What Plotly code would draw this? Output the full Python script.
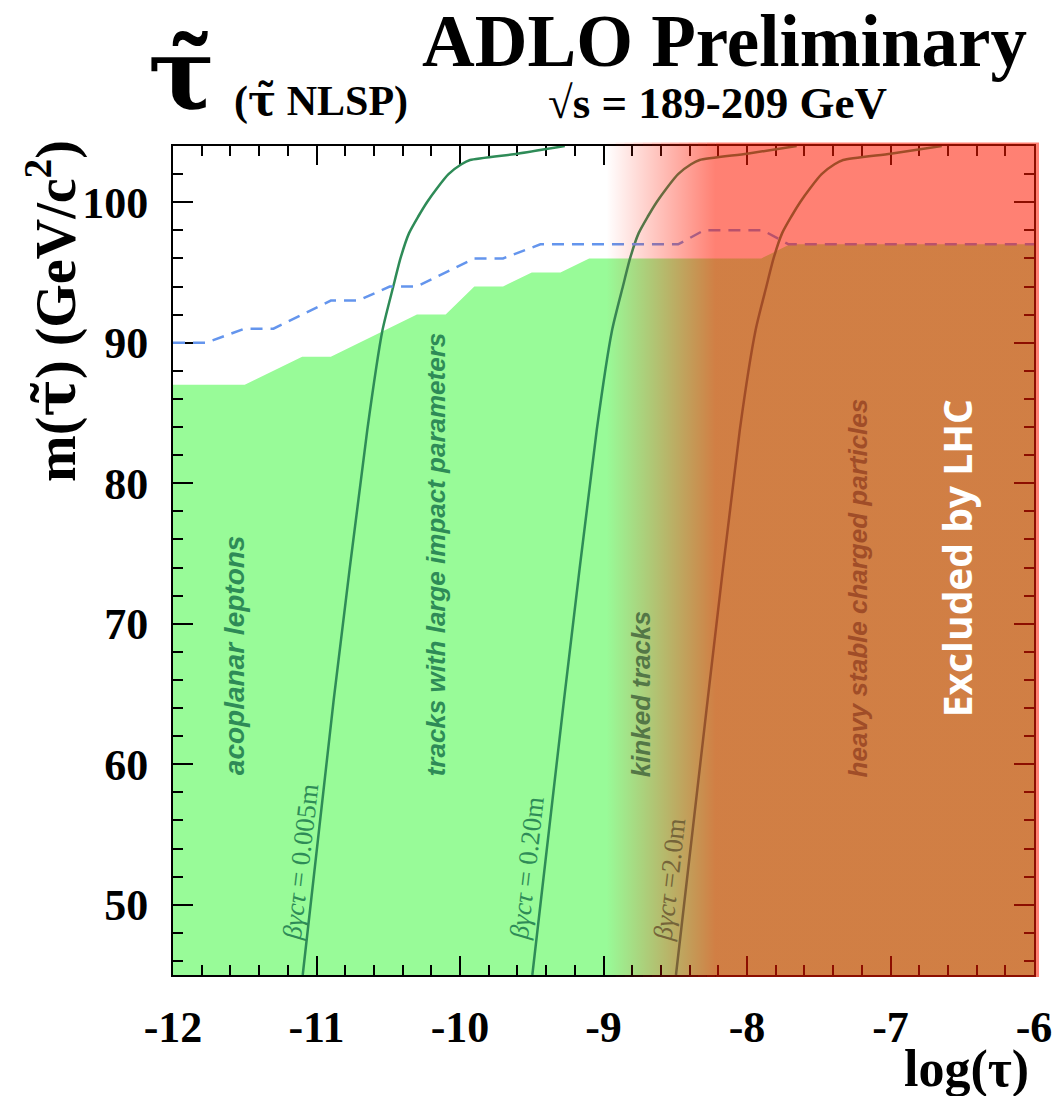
import plotly.graph_objects as go

# ---------------- data ----------------
x_range = [-12, -6]
y_range = [45, 104]

x_tickvals = [-12, -11, -10, -9, -8, -7, -6]
x_ticktext = ["-12", "-11", "-10", "-9", "-8", "-7", "-6"]
y_tickvals = [50, 60, 70, 80, 90, 100]
y_ticktext = ["50", "60", "70", "80", "90", "100"]

# observed excluded region (green), upper boundary
excl_logtau = [-12, -11.5, -11.1, -10.9, -10.3, -10.1, -9.9, -9.7, -9.5, -9.3, -9.1, -7.9, -7.7, -6]
excl_mass = [87, 87, 89, 89, 92, 92, 94, 94, 95, 95, 96, 96, 97, 97]

# expected limit (dashed)
exp_logtau = [-12, -11.77, -11.5, -11.30, -10.9, -10.71, -10.49, -10.30, -9.9, -9.70, -9.44,
              -8.48, -8.30, -7.89, -7.71, -6]
exp_mass = [90, 90, 91, 91, 93, 93, 94, 94, 96, 96, 97, 97, 98, 98, 97, 97]

# decay-length contours  beta*gamma*c*tau = const
c005_logtau = [-11.096, -10.88, -10.646, -10.54, -10.465, -10.415, -10.355, -10.29, -10.23,
               -10.16, -10.08, -9.99, -9.93, -9.60, -9.27]
c005_mass = [45, 64.6, 83.8, 90.9, 94.0, 96.0, 97.8, 99.0, 100.0, 101.0, 102.0, 102.7, 103.0,
             103.45, 104.0]

c020_logtau = [-9.496, -9.275, -9.047, -8.94, -8.865, -8.815, -8.755, -8.69, -8.63, -8.56,
               -8.48, -8.39, -8.33, -8.0, -7.654]
c020_mass = [45, 64.6, 83.8, 90.9, 94.0, 96.0, 97.8, 99.0, 100.0, 101.0, 102.0, 102.7, 103.0,
             103.45, 104.0]

c200_logtau = [-8.495, -8.274, -8.05, -7.94, -7.865, -7.815, -7.755, -7.69, -7.63, -7.56,
               -7.48, -7.39, -7.33, -7.0, -6.643]
c200_mass = [45, 64.6, 83.8, 90.9, 94.0, 96.0, 97.8, 99.0, 100.0, 101.0, 102.0, 102.7, 103.0,
             103.45, 104.0]

# LHC excluded region (fades in between these log(tau) values)
lhc_fade_start = -8.98
lhc_fade_full = -8.22
lhc_logtau = [-8.98, -5.9, -5.9, -8.98]
lhc_mass = [40, 40, 110, 110]
lhc_rgb = (255, 25, 0)
lhc_alpha = 0.55

# ---------------- styling ----------------
GREEN_FILL = "#98FB98"
CURVE = "#2E8B57"
DASH = "#6495ED"
SERIF = "Liberation Serif"
SANS = "Liberation Sans"
TT = "<span style='font-family:DejaVu Serif'>τ̃</span>"

W, H = 1056, 1096
ML, MR, MT, MB = 173, 22, 146, 121
PW, PH = W - ML - MR, H - MT - MB


def px(xp, yp):
    return (xp - ML) / PW, (H - MB - yp) / PH


fig = go.Figure()

# green excluded region as a below-layer shape (under ticks)
path = "M %g,%g " % (excl_logtau[0], y_range[0])
for xv, yv in zip(excl_logtau, excl_mass):
    path += "L %g,%g " % (xv, yv)
path += "L %g,%g Z" % (excl_logtau[-1], y_range[0])
fig.add_shape(type="path", path=path, xref="x", yref="y", layer="below",
              fillcolor=GREEN_FILL, line=dict(width=0))

# curves
for xs, ys in [(c005_logtau, c005_mass), (c020_logtau, c020_mass), (c200_logtau, c200_mass)]:
    fig.add_trace(go.Scatter(x=xs, y=ys, mode="lines",
                             line=dict(color=CURVE, width=2.5, shape="spline", smoothing=0.6),
                             hoverinfo="skip", showlegend=False))

fig.add_trace(go.Scatter(x=exp_logtau, y=exp_mass, mode="lines",
                         line=dict(color=DASH, width=2.5, dash="12px,8px"),
                         hoverinfo="skip", showlegend=False))

# LHC overlay with horizontal gradient
r, g, b = lhc_rgb
fig.add_trace(go.Scatter(
    x=lhc_logtau + [lhc_logtau[0]], y=lhc_mass + [lhc_mass[0]], mode="lines",
    fill="toself", line=dict(width=0, color="rgba(0,0,0,0)"),
    fillgradient=dict(type="horizontal", start=lhc_fade_start, stop=lhc_fade_full,
                      colorscale=[[0, "rgba(%d,%d,%d,0)" % (r, g, b)],
                                  [1, "rgba(%d,%d,%d,%g)" % (r, g, b, lhc_alpha)]]),
    hoverinfo="skip", showlegend=False))


# tint the frame lines inside the LHC region
def alpha_at(x):
    f = (x - lhc_fade_start) / (lhc_fade_full - lhc_fade_start)
    return max(0.0, min(1.0, f)) * lhc_alpha


nseg = 12
edges = [lhc_fade_start + (lhc_fade_full - lhc_fade_start) * i / nseg for i in range(nseg + 1)]
segs = [(edges[i], edges[i + 1], alpha_at(0.5 * (edges[i] + edges[i + 1]))) for i in range(nseg)]
segs.append((lhc_fade_full, x_range[1], lhc_alpha))
for x0, x1, a in segs:
    col = "rgba(%d,%d,%d,%.3f)" % (r, g, b, a)
    fig.add_shape(type="rect", xref="x", yref="paper", x0=x0, x1=x1,
                  y0=1.0, y1=1.0 + 3.5 / PH, fillcolor=col, line=dict(width=0), layer="above")
    fig.add_shape(type="rect", xref="x", yref="paper", x0=x0, x1=x1,
                  y0=-2.0 / PH, y1=0.0, fillcolor=col, line=dict(width=0), layer="above")
fig.add_shape(type="rect", xref="paper", yref="paper", x0=1.0, x1=1.0 + 5.0 / PW,
              y0=-2.0 / PH, y1=1.0 + 3.5 / PH,
              fillcolor="rgba(%d,%d,%d,%g)" % (r, g, b, lhc_alpha), line=dict(width=0),
              layer="above")


# ---------------- region labels ----------------
def lbl(text, x, y, color, size=26, angle=-90, family=SANS, weight="bold", style="italic"):
    fig.add_annotation(text=text, x=x, y=y, xref="x", yref="y", showarrow=False,
                       textangle=angle, xanchor="center", yanchor="middle",
                       font=dict(family=family, size=size, color=color, weight=weight,
                                 style=style))


lbl("acoplanar leptons", -11.575, 67.76, CURVE, size=28)
lbl("tracks with large impact parameters", -10.167, 74.94, CURVE)
lbl("kinked tracks", -8.739, 64.97, "rgb(84,119,71)")
lbl("heavy stable charged particles", -7.226, 72.52, "rgb(160,77,40)")
lbl("Excluded by LHC", -6.544, 74.65, "white", size=39, family="Open Sans", style="normal")

lbl("<i>βγcτ</i> = 0.005m", -11.115, 53.0, CURVE, size=27, angle=-83.5, family=SERIF,
    weight="normal", style="normal")
lbl("<i>βγcτ</i> = 0.20m", -9.533, 52.6, CURVE, size=27, angle=-83.5, family=SERIF,
    weight="normal", style="normal")
lbl("<i>βγcτ</i> =2.0m", -8.537, 51.8, "rgb(117,100,57)", size=27, angle=-83.5, family=SERIF,
    weight="normal", style="normal")


# ---------------- titles ----------------
def ptxt(text, xp, yp, size, angle=0, family=SERIF):
    x, y = px(xp, yp)
    fig.add_annotation(text=text, x=x, y=y, xref="paper", yref="paper", showarrow=False,
                       textangle=angle, xanchor="center", yanchor="middle",
                       font=dict(family=family, size=size, color="black", weight="bold"))


ptxt("ADLO Preliminary", 724, 41, 73)
ptxt("√s = 189-209 GeV", 717, 103, 45)
ptxt("τ̃", 181, 74, 100, family="DejaVu Serif")
ptxt("(" + TT + " NLSP)", 321, 100, 42)
ptxt("m(" + TT + ") (GeV/c<sup>2</sup>)", 52, 311, 56, angle=-90)
ptxt("log(τ)", 966, 1069, 52)

axis_common = dict(showline=True, linewidth=2, linecolor="black", mirror="ticks",
                   ticks="inside", tickwidth=2, tickcolor="black", showgrid=False,
                   zeroline=False, layer="below traces",
                   tickfont=dict(family=SERIF, size=44, color="black", weight="bold"))

fig.update_xaxes(range=x_range, tickmode="array", tickvals=x_tickvals, ticktext=x_ticktext,
                 ticklen=19, ticklabelstandoff=12,
                 minor=dict(ticks="inside", ticklen=10, tickwidth=1.5, tickcolor="black",
                            tickmode="linear", tick0=-12, dtick=0.2, showgrid=False),
                 **axis_common)
fig.update_yaxes(range=y_range, tickmode="array", tickvals=y_tickvals, ticktext=y_ticktext,
                 ticklen=20, ticklabelstandoff=14,
                 minor=dict(ticks="inside", ticklen=10, tickwidth=1.5, tickcolor="black",
                            tickmode="linear", tick0=0, dtick=2, showgrid=False),
                 **axis_common)

fig.update_layout(width=W, height=H, margin=dict(l=ML, r=MR, t=MT, b=MB, autoexpand=False),
                  plot_bgcolor="white", paper_bgcolor="white", showlegend=False)

fig.write_html("out.html")
